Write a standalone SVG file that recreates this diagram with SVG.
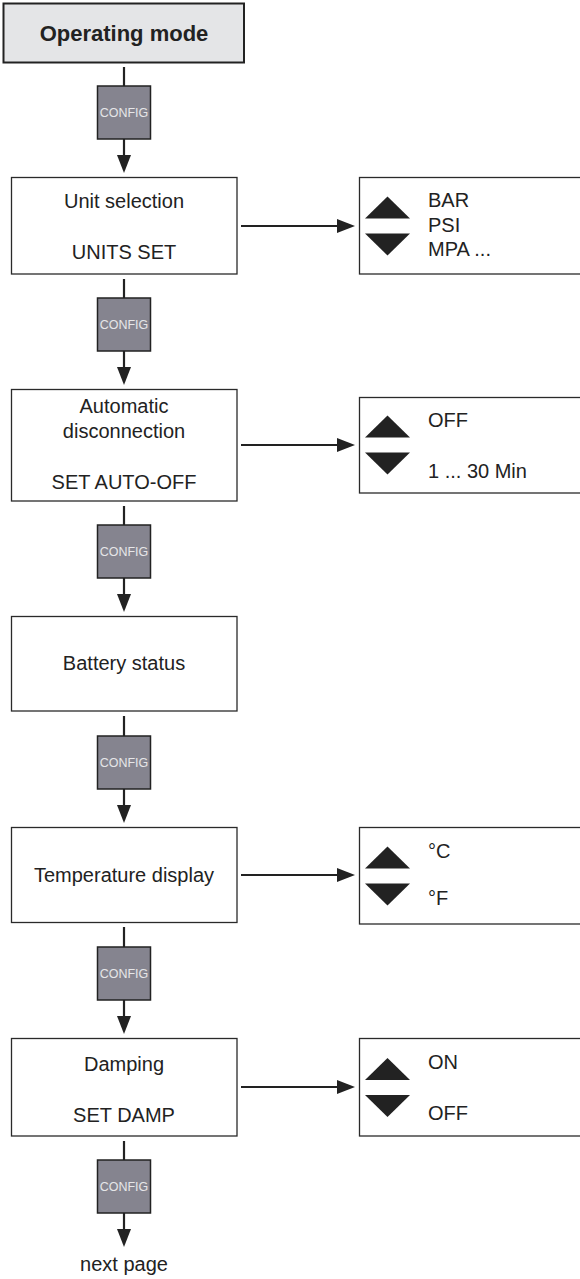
<svg xmlns="http://www.w3.org/2000/svg" width="580" height="1279" viewBox="0 0 580 1279">
<style>
  .box{fill:#ffffff;stroke:#2a2a2a;stroke-width:1.3}
  .top{fill:#e4e5e7;stroke:#222;stroke-width:2}
  .cfg{fill:#85848f;stroke:#222;stroke-width:1.5}
  .cfgt{font-family:"Liberation Sans",Arial,sans-serif;font-size:12.5px;fill:#e6e6e8;text-anchor:middle}
  .t{font-family:"Liberation Sans",Arial,sans-serif;font-size:20px;fill:#222}
  .c{text-anchor:middle}
  .b{font-weight:bold;font-size:22px}
  .ln{stroke:#222;stroke-width:2.2;fill:none}
  .tri{fill:#222}
</style>
<defs>
  <marker id="ah" markerUnits="userSpaceOnUse" markerWidth="18" markerHeight="14" refX="8" refY="7" orient="auto" overflow="visible">
    <path d="M0,0 L18,7 L0,14 z" fill="#222"/>
  </marker>
  <g id="updown">
    <polygon class="tri" points="0,-7 45,-7 22.5,-29"/>
    <polygon class="tri" points="0,8 45,8 22.5,30"/>
  </g>
</defs>

<g id="connectors">
  <line class="ln" x1="124" y1="67" x2="124" y2="86"/>
  <line class="ln" x1="124" y1="139" x2="124" y2="163" marker-end="url(#ah)"/>
  <line class="ln" x1="124" y1="279" x2="124" y2="298"/>
  <line class="ln" x1="124" y1="351" x2="124" y2="375" marker-end="url(#ah)"/>
  <line class="ln" x1="124" y1="506" x2="124" y2="525"/>
  <line class="ln" x1="124" y1="578" x2="124" y2="602" marker-end="url(#ah)"/>
  <line class="ln" x1="124" y1="716" x2="124" y2="736"/>
  <line class="ln" x1="124" y1="789" x2="124" y2="813" marker-end="url(#ah)"/>
  <line class="ln" x1="124" y1="927" x2="124" y2="947"/>
  <line class="ln" x1="124" y1="1000" x2="124" y2="1024" marker-end="url(#ah)"/>
  <line class="ln" x1="124" y1="1141" x2="124" y2="1160"/>
  <line class="ln" x1="124" y1="1213" x2="124" y2="1237" marker-end="url(#ah)"/>
  <line class="ln" x1="241" y1="226" x2="345" y2="226" marker-end="url(#ah)"/>
  <line class="ln" x1="241" y1="445" x2="345" y2="445" marker-end="url(#ah)"/>
  <line class="ln" x1="241" y1="875" x2="345" y2="875" marker-end="url(#ah)"/>
  <line class="ln" x1="241" y1="1087" x2="345" y2="1087" marker-end="url(#ah)"/>
</g>

<g id="operating-mode">
  <rect class="top" x="3.5" y="3.5" width="240.5" height="59"/>
  <text class="t c b" x="124" y="41">Operating mode</text>
</g>

<g id="config-1"><rect class="cfg" x="97.5" y="86" width="53" height="53"/><text class="cfgt" x="124" y="117">CONFIG</text></g>
<g id="config-2"><rect class="cfg" x="97.5" y="298" width="53" height="53"/><text class="cfgt" x="124" y="329">CONFIG</text></g>
<g id="config-3"><rect class="cfg" x="97.5" y="525" width="53" height="53"/><text class="cfgt" x="124" y="556">CONFIG</text></g>
<g id="config-4"><rect class="cfg" x="97.5" y="736" width="53" height="53"/><text class="cfgt" x="124" y="767">CONFIG</text></g>
<g id="config-5"><rect class="cfg" x="97.5" y="947" width="53" height="53"/><text class="cfgt" x="124" y="978">CONFIG</text></g>
<g id="config-6"><rect class="cfg" x="97.5" y="1160" width="53" height="53"/><text class="cfgt" x="124" y="1191">CONFIG</text></g>

<g id="unit-selection">
  <rect class="box" x="11.5" y="177.5" width="225.5" height="96.5"/>
  <text class="t c" x="124" y="208">Unit selection</text>
  <text class="t c" x="124" y="259">UNITS SET</text>
</g>
<g id="units-options">
  <rect class="box" x="359.5" y="177.5" width="230" height="96.5"/>
  <use href="#updown" x="365" y="225.5"/>
  <text class="t" x="428" y="207">BAR</text>
  <text class="t" x="428" y="232">PSI</text>
  <text class="t" x="428" y="256">MPA ...</text>
</g>

<g id="auto-off">
  <rect class="box" x="11.5" y="389.5" width="225.5" height="111.5"/>
  <text class="t c" x="124" y="413">Automatic</text>
  <text class="t c" x="124" y="438">disconnection</text>
  <text class="t c" x="124" y="489">SET AUTO-OFF</text>
</g>
<g id="auto-off-options">
  <rect class="box" x="359.5" y="397.5" width="230" height="95.5"/>
  <use href="#updown" x="365" y="444.5"/>
  <text class="t" x="428" y="427">OFF</text>
  <text class="t" x="428" y="478">1 ... 30 Min</text>
</g>

<g id="battery-status">
  <rect class="box" x="11.5" y="616.5" width="225.5" height="94.5"/>
  <text class="t c" x="124" y="670">Battery status</text>
</g>

<g id="temperature-display">
  <rect class="box" x="11.5" y="827.5" width="225.5" height="95"/>
  <text class="t c" x="124" y="882">Temperature display</text>
</g>
<g id="temperature-options">
  <rect class="box" x="359.5" y="827.5" width="230" height="96.5"/>
  <use href="#updown" x="365" y="875.5"/>
  <text class="t" x="428" y="858">°C</text>
  <text class="t" x="428" y="905">°F</text>
</g>

<g id="damping">
  <rect class="box" x="11.5" y="1038.5" width="225.5" height="97.5"/>
  <text class="t c" x="124" y="1071">Damping</text>
  <text class="t c" x="124" y="1122">SET DAMP</text>
</g>
<g id="damping-options">
  <rect class="box" x="359.5" y="1038.5" width="230" height="97.5"/>
  <use href="#updown" x="365" y="1087"/>
  <text class="t" x="428" y="1069">ON</text>
  <text class="t" x="428" y="1120">OFF</text>
</g>

<g id="next-page">
  <text class="t c" x="124" y="1271">next page</text>
</g>
</svg>
